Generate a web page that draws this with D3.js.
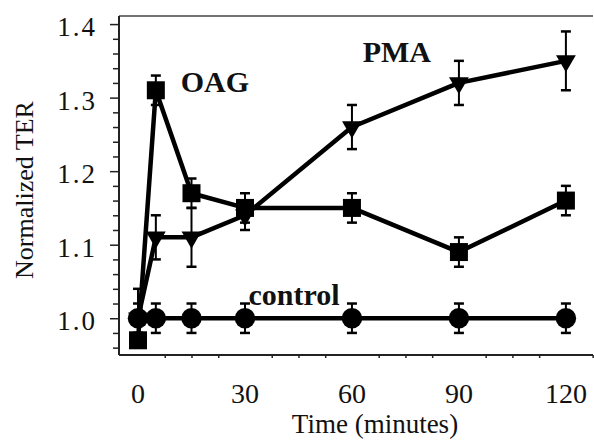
<!DOCTYPE html>
<html>
<head>
<meta charset="utf-8">
<script src="https://cdn.jsdelivr.net/npm/d3@7"></script>
<style>
  body { margin: 0; background: #fff; }
  svg text { font-family: "Liberation Serif", "Times New Roman", serif; fill: #111; }
</style>
</head>
<body>
<div id="chart"></div>
<script>
const times = [0, 5, 15, 30, 60, 90, 120];
const oag = [0.97, 1.31, 1.17, 1.15, 1.15, 1.09, 1.16];
const oagErr = [0.01, 0.02, 0.02, 0.02, 0.02, 0.02, 0.02];
const pma = [1.00, 1.11, 1.11, 1.14, 1.26, 1.32, 1.35];
const pmaErr = [0.04, 0.03, 0.04, 0.02, 0.03, 0.03, 0.04];
const control = [1.00, 1.00, 1.00, 1.00, 1.00, 1.00, 1.00];
const controlErr = [0.02, 0.02, 0.02, 0.02, 0.02, 0.02, 0.02];
const yTickLabels = ["1.0", "1.1", "1.2", "1.3", "1.4"];
const xTickLabels = ["0", "30", "60", "90", "120"];

const width = 594, height = 441;
const plotLeft = 119, plotRight = 593, plotTop = 16, plotBottom = 355;

const svg = d3.select("#chart").append("svg")
    .attr("width", width)
    .attr("height", height);

const x = d3.scaleLinear().domain([-5.33, 127.6]).range([plotLeft, plotRight]);
const y = d3.scaleLinear().domain([0.95, 1.411]).range([plotBottom, plotTop]);

// frame: top line, left axis, bottom axis (no right side)
svg.append("line")
    .attr("x1", plotLeft).attr("x2", plotRight).attr("y1", plotTop).attr("y2", plotTop)
    .attr("stroke", "#444").attr("stroke-width", 1.5);

// y axis with minor ticks every 0.02
const yTicks = d3.range(0.96, 1.4001, 0.02);
const yAxis = d3.axisLeft(y)
    .tickValues(yTicks)
    .tickSize(6)
    .tickFormat("");
const gy = svg.append("g").attr("transform", `translate(${plotLeft},0)`).call(yAxis);
gy.select(".domain").attr("d", `M0,${plotTop}V${plotBottom}`).attr("stroke", "#222").attr("stroke-width", 2);
gy.selectAll(".tick line")
    .attr("stroke", "#222").attr("stroke-width", 1.5)
    .attr("x2", d => (Math.round(d * 100) % 10 === 0 ? -9 : -6));

svg.selectAll(".ylab")
    .data(yTickLabels)
    .enter().append("text")
    .attr("class", "ylab")
    .attr("x", plotLeft - 22)
    .attr("y", d => y(+d) + 12)
    .attr("text-anchor", "end")
    .attr("font-size", 27)
    .attr("letter-spacing", 2)
    .text(d => d);

// x axis, small ticks every 7.5 min
const xTicks = d3.range(7.5, 128, 7.5).filter(d => d % 30 !== 0);
const xAxis = d3.axisBottom(x)
    .tickValues(xTicks)
    .tickSize(3)
    .tickFormat("");
const gx = svg.append("g").attr("transform", `translate(0,${plotBottom})`).call(xAxis);
gx.select(".domain").attr("d", `M${plotLeft},0H${plotRight}`).attr("stroke", "#222").attr("stroke-width", 2);
gx.selectAll(".tick line").attr("stroke", "#222").attr("stroke-width", 1.5);

svg.selectAll(".xlab")
    .data(xTickLabels)
    .enter().append("text")
    .attr("class", "xlab")
    .attr("x", d => x(+d))
    .attr("y", 403)
    .attr("text-anchor", "middle")
    .attr("font-size", 28)
    .text(d => d);

svg.append("text")
    .attr("x", 375).attr("y", 433)
    .attr("text-anchor", "middle")
    .attr("font-size", 27)
    .text("Time (minutes)");

svg.append("text")
    .attr("transform", "translate(33,190) rotate(-90)")
    .attr("text-anchor", "middle")
    .attr("font-size", 26)
    .text("Normalized TER");

const series = [
    { name: "OAG", values: oag, err: oagErr, shape: "square" },
    { name: "PMA", values: pma, err: pmaErr, shape: "triangle" },
    { name: "control", values: control, err: controlErr, shape: "circle" }
];

const line = d3.line()
    .x((d, i) => x(times[i]))
    .y(d => y(d));

series.forEach(s => {
    const g = svg.append("g");
    g.append("path")
        .datum(s.values)
        .attr("d", line)
        .attr("fill", "none")
        .attr("stroke", "#000")
        .attr("stroke-width", 4.5)
        .attr("stroke-linejoin", "round");

    const pts = s.values.map((v, i) => ({ t: times[i], v: v, e: s.err[i] }));
    const eb = g.selectAll(".err").data(pts).enter().append("g");
    eb.append("line")
        .attr("x1", d => x(d.t)).attr("x2", d => x(d.t))
        .attr("y1", d => y(d.v - d.e)).attr("y2", d => y(d.v + d.e))
        .attr("stroke", "#000").attr("stroke-width", 2);
    [-1, 1].forEach(sg => {
        eb.append("line")
            .attr("x1", d => x(d.t) - 5).attr("x2", d => x(d.t) + 5)
            .attr("y1", d => y(d.v + sg * d.e)).attr("y2", d => y(d.v + sg * d.e))
            .attr("stroke", "#000").attr("stroke-width", 2.5);
    });

    const sym = s.shape === "square" ? d3.symbol(d3.symbolSquare, 324)
        : s.shape === "circle" ? d3.symbol(d3.symbolCircle, 330)
        : d3.symbol(d3.symbolTriangle, 170);
    g.selectAll(".mark").data(pts).enter().append("path")
        .attr("d", sym)
        .attr("fill", "#000")
        .attr("transform", d => `translate(${x(d.t)},${y(d.v)})` + (s.shape === "triangle" ? " rotate(180)" : ""));
});

const labels = [
    { text: "OAG", t: 12, v: 1.307 },
    { text: "PMA", t: 63, v: 1.348 },
    { text: "control", t: 31, v: 1.018 }
];
svg.selectAll(".slab")
    .data(labels)
    .enter().append("text")
    .attr("x", d => x(d.t))
    .attr("y", d => y(d.v))
    .attr("font-size", 30)
    .attr("font-weight", "bold")
    .text(d => d.text);
</script>
</body>
</html>
